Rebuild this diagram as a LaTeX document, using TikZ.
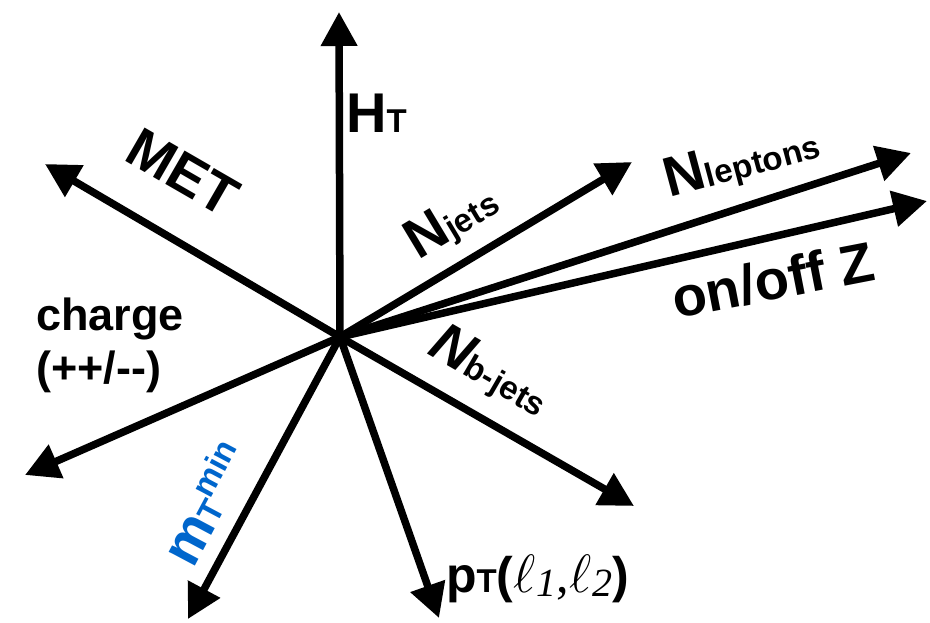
\RequirePackage{fix-cm}
\documentclass[tikz,border=0pt]{standalone}
\usepackage{fontspec}
\setmainfont{Liberation Sans}
\newfontfamily\lserif{Liberation Serif}
\usetikzlibrary{arrows.meta}
\definecolor{mtblue}{RGB}{0,102,204}
\newcommand\bigf{\fontsize{56}{60}\selectfont}
\newcommand\lowf[1]{{\fontsize{33}{36}\selectfont #1}}
\newcommand\ellit[1]{{\mdseries\fontsize{54}{58}\selectfont$\ell$\kern1pt{\lserif\itshape\fontsize{40}{42}\selectfont\raisebox{-4pt}{#1}}}}
\begin{document}
\begin{tikzpicture}[x=1pt,y=-1pt,
  axis/.style={line width=7.5pt,-{Triangle[length=34pt,width=35pt]}},
  lab/.style={font=\bfseries\bigf, inner sep=0pt}]
\useasboundingbox (0,0) rectangle (930,623);
% hub and arrow tips
\coordinate (O) at (340,337);
\coordinate (tHT) at (339,12);
\coordinate (tMET) at (45,164);
\coordinate (tCh) at (25,475);
\coordinate (tNj) at (632,162);
\coordinate (tNl) at (911,153);
\coordinate (tZ) at (927,201);
\coordinate (tNb) at (634,506);
\coordinate (tPT) at (439,618);
\coordinate (tMT) at (188,619);
% axes
\foreach \t in {tHT,tMET,tCh,tNj,tNl,tZ,tNb,tPT,tMT}
  \draw[axis] (O) -- (\t);
% labels
\node[lab, anchor=base west] (lHT) at (346,133) {H\lowf{T}};
\node[lab, rotate=-30] (lMET) at (183,172) {MET};
\node[font=\bfseries\fontsize{45}{53}\selectfont, inner sep=0pt, anchor=north west, align=left] (lCh) at (36,298) {charge\\(++/-{}-)};
\node[lab, rotate=31] (lNj) at (452,222) {N\lowf{jets}};
\node[lab, rotate=15] (lNl) at (742,162) {N\lowf{leptons}};
\node[font=\bfseries\fontsize{56}{60}\selectfont, inner sep=0pt, rotate=11] (lZ) at (773,280) {on/off Z};
\node[lab, rotate=-30] (lNb) at (490,372) {\itshape N\upshape\lowf{b-jets}};
\node[lab, rotate=62, text=mtblue] (lMT) at (205,503) {m\lowf{T}\raisebox{18pt}{\lowf{min}}};
\node[font=\bfseries\fontsize{50}{54}\selectfont, inner sep=0pt, anchor=base west] (lPT) at (446,592) {p\lowf{T}(\ellit{1}{\lserif\mdseries,}\ellit{2})};
\end{tikzpicture}
\end{document}
